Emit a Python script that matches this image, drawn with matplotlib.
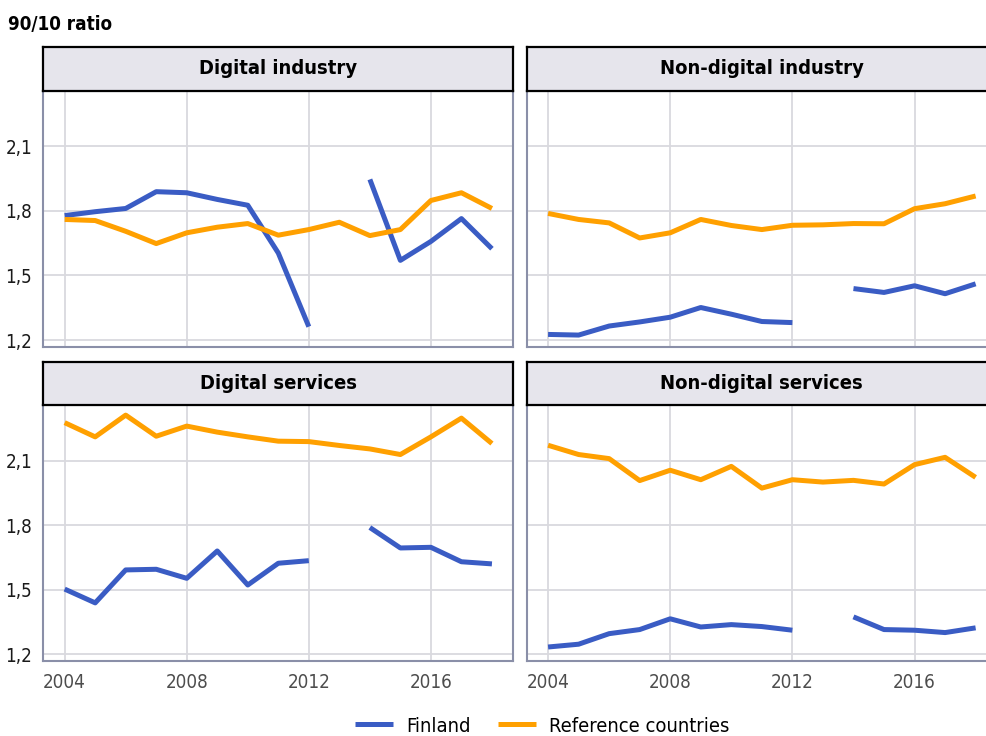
import numpy as np
import matplotlib
matplotlib.use('Agg')
import matplotlib.pyplot as plt
from matplotlib import font_manager

# Wage dispersion (90/10 ratio), Finland vs. reference countries, 2004-2018
years = np.arange(2004, 2019)
nan = np.nan

digital_industry_fin = [1.778, 1.796, 1.811, 1.889, 1.884, 1.853, 1.826, 1.604, 1.262, nan,
                        1.946, 1.570, 1.658, 1.764, 1.624]
digital_industry_ref = [1.760, 1.755, 1.705, 1.648, 1.698, 1.724, 1.741, 1.687, 1.713, 1.747,
                        1.685, 1.713, 1.848, 1.884, 1.811]

nondigital_industry_fin = [1.226, 1.223, 1.265, 1.284, 1.306, 1.351, 1.320, 1.286, 1.281, nan,
                           1.439, 1.421, 1.452, 1.415, 1.461]
nondigital_industry_ref = [1.788, 1.760, 1.744, 1.674, 1.698, 1.760, 1.732, 1.713, 1.733, 1.735,
                           1.741, 1.740, 1.810, 1.833, 1.869]

digital_services_fin = [1.503, 1.439, 1.592, 1.595, 1.553, 1.680, 1.522, 1.623, 1.635, nan,
                        1.789, 1.694, 1.697, 1.630, 1.620]
digital_services_ref = [2.276, 2.210, 2.311, 2.213, 2.260, 2.232, 2.210, 2.190, 2.188, 2.170,
                        2.154, 2.128, 2.210, 2.297, 2.179]

nondigital_services_fin = [1.234, 1.247, 1.296, 1.315, 1.365, 1.327, 1.338, 1.329, 1.312, nan,
                           1.374, 1.315, 1.312, 1.301, 1.323]
nondigital_services_ref = [2.171, 2.128, 2.109, 2.007, 2.055, 2.011, 2.073, 1.972, 2.011, 2.000,
                           2.008, 1.991, 2.081, 2.115, 2.022]

panel_titles = ['Digital industry', 'Non-digital industry', 'Digital services', 'Non-digital services']
series_names = ['Finland', 'Reference countries']
y_ticks = [1.2, 1.5, 1.8, 2.1]
y_labels = ['1,2', '1,5', '1,8', '2,1']
x_ticks = [2004, 2008, 2012, 2016]
x_labels = ['2004', '2008', '2012', '2016']

panels = [
    (digital_industry_fin, digital_industry_ref),
    (nondigital_industry_fin, nondigital_industry_ref),
    (digital_services_fin, digital_services_ref),
    (nondigital_services_fin, nondigital_services_ref),
]

BLUE = '#3a5cc4'
ORANGE = '#ffa000'
GRID = '#d9d9de'
BORDER = '#8a8fa8'
STRIP = '#e6e5ec'

# pick a narrow face if one is installed
names = {f.name for f in font_manager.fontManager.ttflist}
if 'Liberation Sans Narrow' in names:
    plt.rcParams['font.family'] = 'Liberation Sans Narrow'
    plt.rcParams['font.stretch'] = 'normal'
else:
    plt.rcParams['font.family'] = 'DejaVu Sans'
    plt.rcParams['font.stretch'] = 'condensed'

W, H = 986, 736
fig = plt.figure(figsize=(W / 100, H / 100), dpi=100)


def px_rect(left, top, right, bottom):
    return [left / W, 1 - bottom / H, (right - left) / W, (bottom - top) / H]


cols = [(43.3, 513.3), (526.7, 997.0)]
rows = [(47.3, 90.7, 346.7), (361.7, 405.0, 661.0)]

for i, (fin, ref) in enumerate(panels):
    r, c = divmod(i, 2)
    left, right = cols[c]
    strip_top, panel_top, panel_bottom = rows[r]

    ax = fig.add_axes(px_rect(left, panel_top, right, panel_bottom))
    ax.plot(years, fin, color=BLUE, lw=3.6, solid_capstyle='butt', solid_joinstyle='round', zorder=3)
    ax.plot(years, ref, color=ORANGE, lw=3.6, solid_capstyle='butt', solid_joinstyle='round', zorder=3)
    ax.set_xlim(2003.3, 2018.7)
    ax.set_ylim(1.169, 2.358)
    ax.set_xticks(x_ticks)
    ax.set_yticks(y_ticks)
    ax.grid(True, color=GRID, lw=1.3, zorder=0)
    ax.tick_params(length=0)
    if c == 0:
        ax.set_yticklabels(y_labels, fontsize=13.5, color='#1a1a1a')
        ax.tick_params(axis='y', pad=8)
    else:
        ax.set_yticklabels([])
    if r == 1:
        ax.set_xticklabels(x_labels, fontsize=13.5, color='#4d4d4d')
        ax.tick_params(axis='x', pad=9)
    else:
        ax.set_xticklabels([])
    for s in ax.spines.values():
        s.set_color(BORDER)
        s.set_linewidth(1.5)

    sax = fig.add_axes(px_rect(left, strip_top, right, panel_top))
    sax.set_facecolor(STRIP)
    sax.set_xticks([])
    sax.set_yticks([])
    for s in sax.spines.values():
        s.set_color('black')
        s.set_linewidth(1.6)
    sax.text(0.5, 0.5, panel_titles[i], ha='center', va='center', fontsize=14.5,
             fontweight='bold', color='black', transform=sax.transAxes)

fig.text(8 / W, 1 - 25 / H, '90/10 ratio', fontsize=13.5, fontweight='bold', va='center', ha='left')

handles = [plt.Line2D([], [], color=BLUE, lw=3.6, solid_capstyle='butt'),
           plt.Line2D([], [], color=ORANGE, lw=3.6, solid_capstyle='butt')]
fig.legend(handles, series_names, loc='center left', bbox_to_anchor=(355 / W, 1 - 726 / H), ncol=2,
           frameon=False, fontsize=14.5, handlelength=1.9, handletextpad=0.65, columnspacing=1.35,
           borderpad=0, borderaxespad=0)

fig.savefig('out.png', dpi=100)
